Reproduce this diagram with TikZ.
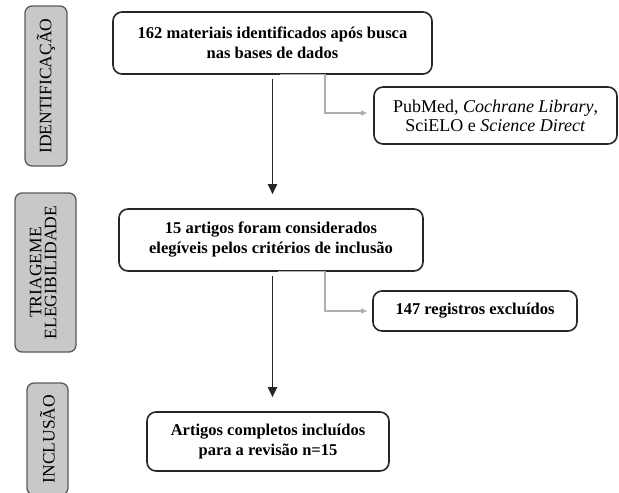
\documentclass[tikz,border=0pt]{standalone}
\usepackage{fontspec}
\setmainfont{Liberation Serif}
\usetikzlibrary{arrows.meta, calc}
\definecolor{labelfill}{RGB}{200, 200, 200}
\definecolor{labeldraw}{RGB}{90, 90, 90}
\definecolor{sidegray}{RGB}{175, 175, 175}
\tikzset{
  stagebox/.style={draw=labeldraw, fill=labelfill, line width=1.3pt, rounded corners=7pt,
    inner sep=0pt, align=center, font=\fontsize{17.5}{17}\selectfont},
  flowbox/.style={draw=black!85, line width=1.6pt, rounded corners=9pt, inner sep=0pt,
    align=center, font=\fontsize{16.5}{20}\selectfont\bfseries},
  sidebox/.style={flowbox, font=\fontsize{18}{19}\selectfont},
  mainarrow/.style={draw=black!85, line width=1.8pt, -{Triangle[length=10pt, width=9pt]},
    shorten <=4pt, shorten >=14pt},
  sidearrow/.style={draw=sidegray, line width=1.2pt, -{Triangle[length=6pt, width=5pt]}}
}
\begin{document}
\begin{tikzpicture}[x=1pt, y=-1pt]
  \useasboundingbox (0,0) rectangle (619,493);

  % stage labels
  \node[stagebox, minimum width=42pt, minimum height=160pt] (ident) at (46, 86)
    {\rotatebox{90}{IDENTIFICAÇÃO}};
  \node[stagebox, minimum width=61pt, minimum height=159pt] (triag) at (45.5, 272.5)
    {\rotatebox{90}{\begin{tabular}{@{}c@{}}TRIAGEME\\[-2pt] ELEGIBILIDADE\end{tabular}}};
  \node[stagebox, minimum width=41pt, minimum height=112pt] (incl) at (47.5, 439)
    {\rotatebox{90}{INCLUSÃO}};

  % flow boxes
  \node[flowbox, minimum width=319pt, minimum height=62pt] (found) at (272.5, 43)
    {162 materiais identificados após busca\\ nas bases de dados};
  \node[sidebox, minimum width=243pt, minimum height=57pt] (bases) at (495.5, 115.5)
    {PubMed, \textit{Cochrane Library},\\ SciELO e \textit{Science Direct}};
  \node[flowbox, minimum width=304pt, minimum height=62pt] (elig) at (271, 240)
    {15 artigos foram considerados\\ elegíveis pelos critérios de inclusão};
  \node[flowbox, minimum width=204pt, minimum height=40pt] (excl) at (475, 311)
    {147 registros excluídos};
  \node[flowbox, minimum width=242pt, minimum height=59pt] (final) at (268, 441.5)
    {Artigos completos incluídos\\ para a revisão n=15};

  % connectors
  \draw[mainarrow] (found.south -| 272.5,0) -- (elig.north -| 272.5,0);
  \draw[mainarrow] (elig.south -| 272.5,0) -- (final.north -| 272.5,0);
  \draw[sidearrow] ($(found.south)+(7,0)$) -- ($(found.south)+(52.5,0)$)
    |- ($(bases.west)+(-6,-2.5)$);
  \draw[sidearrow] ($(elig.south)+(7,0)$) -- ($(elig.south)+(54,0)$)
    |- ($(excl.west)+(-5,0)$);
\end{tikzpicture}
\end{document}
